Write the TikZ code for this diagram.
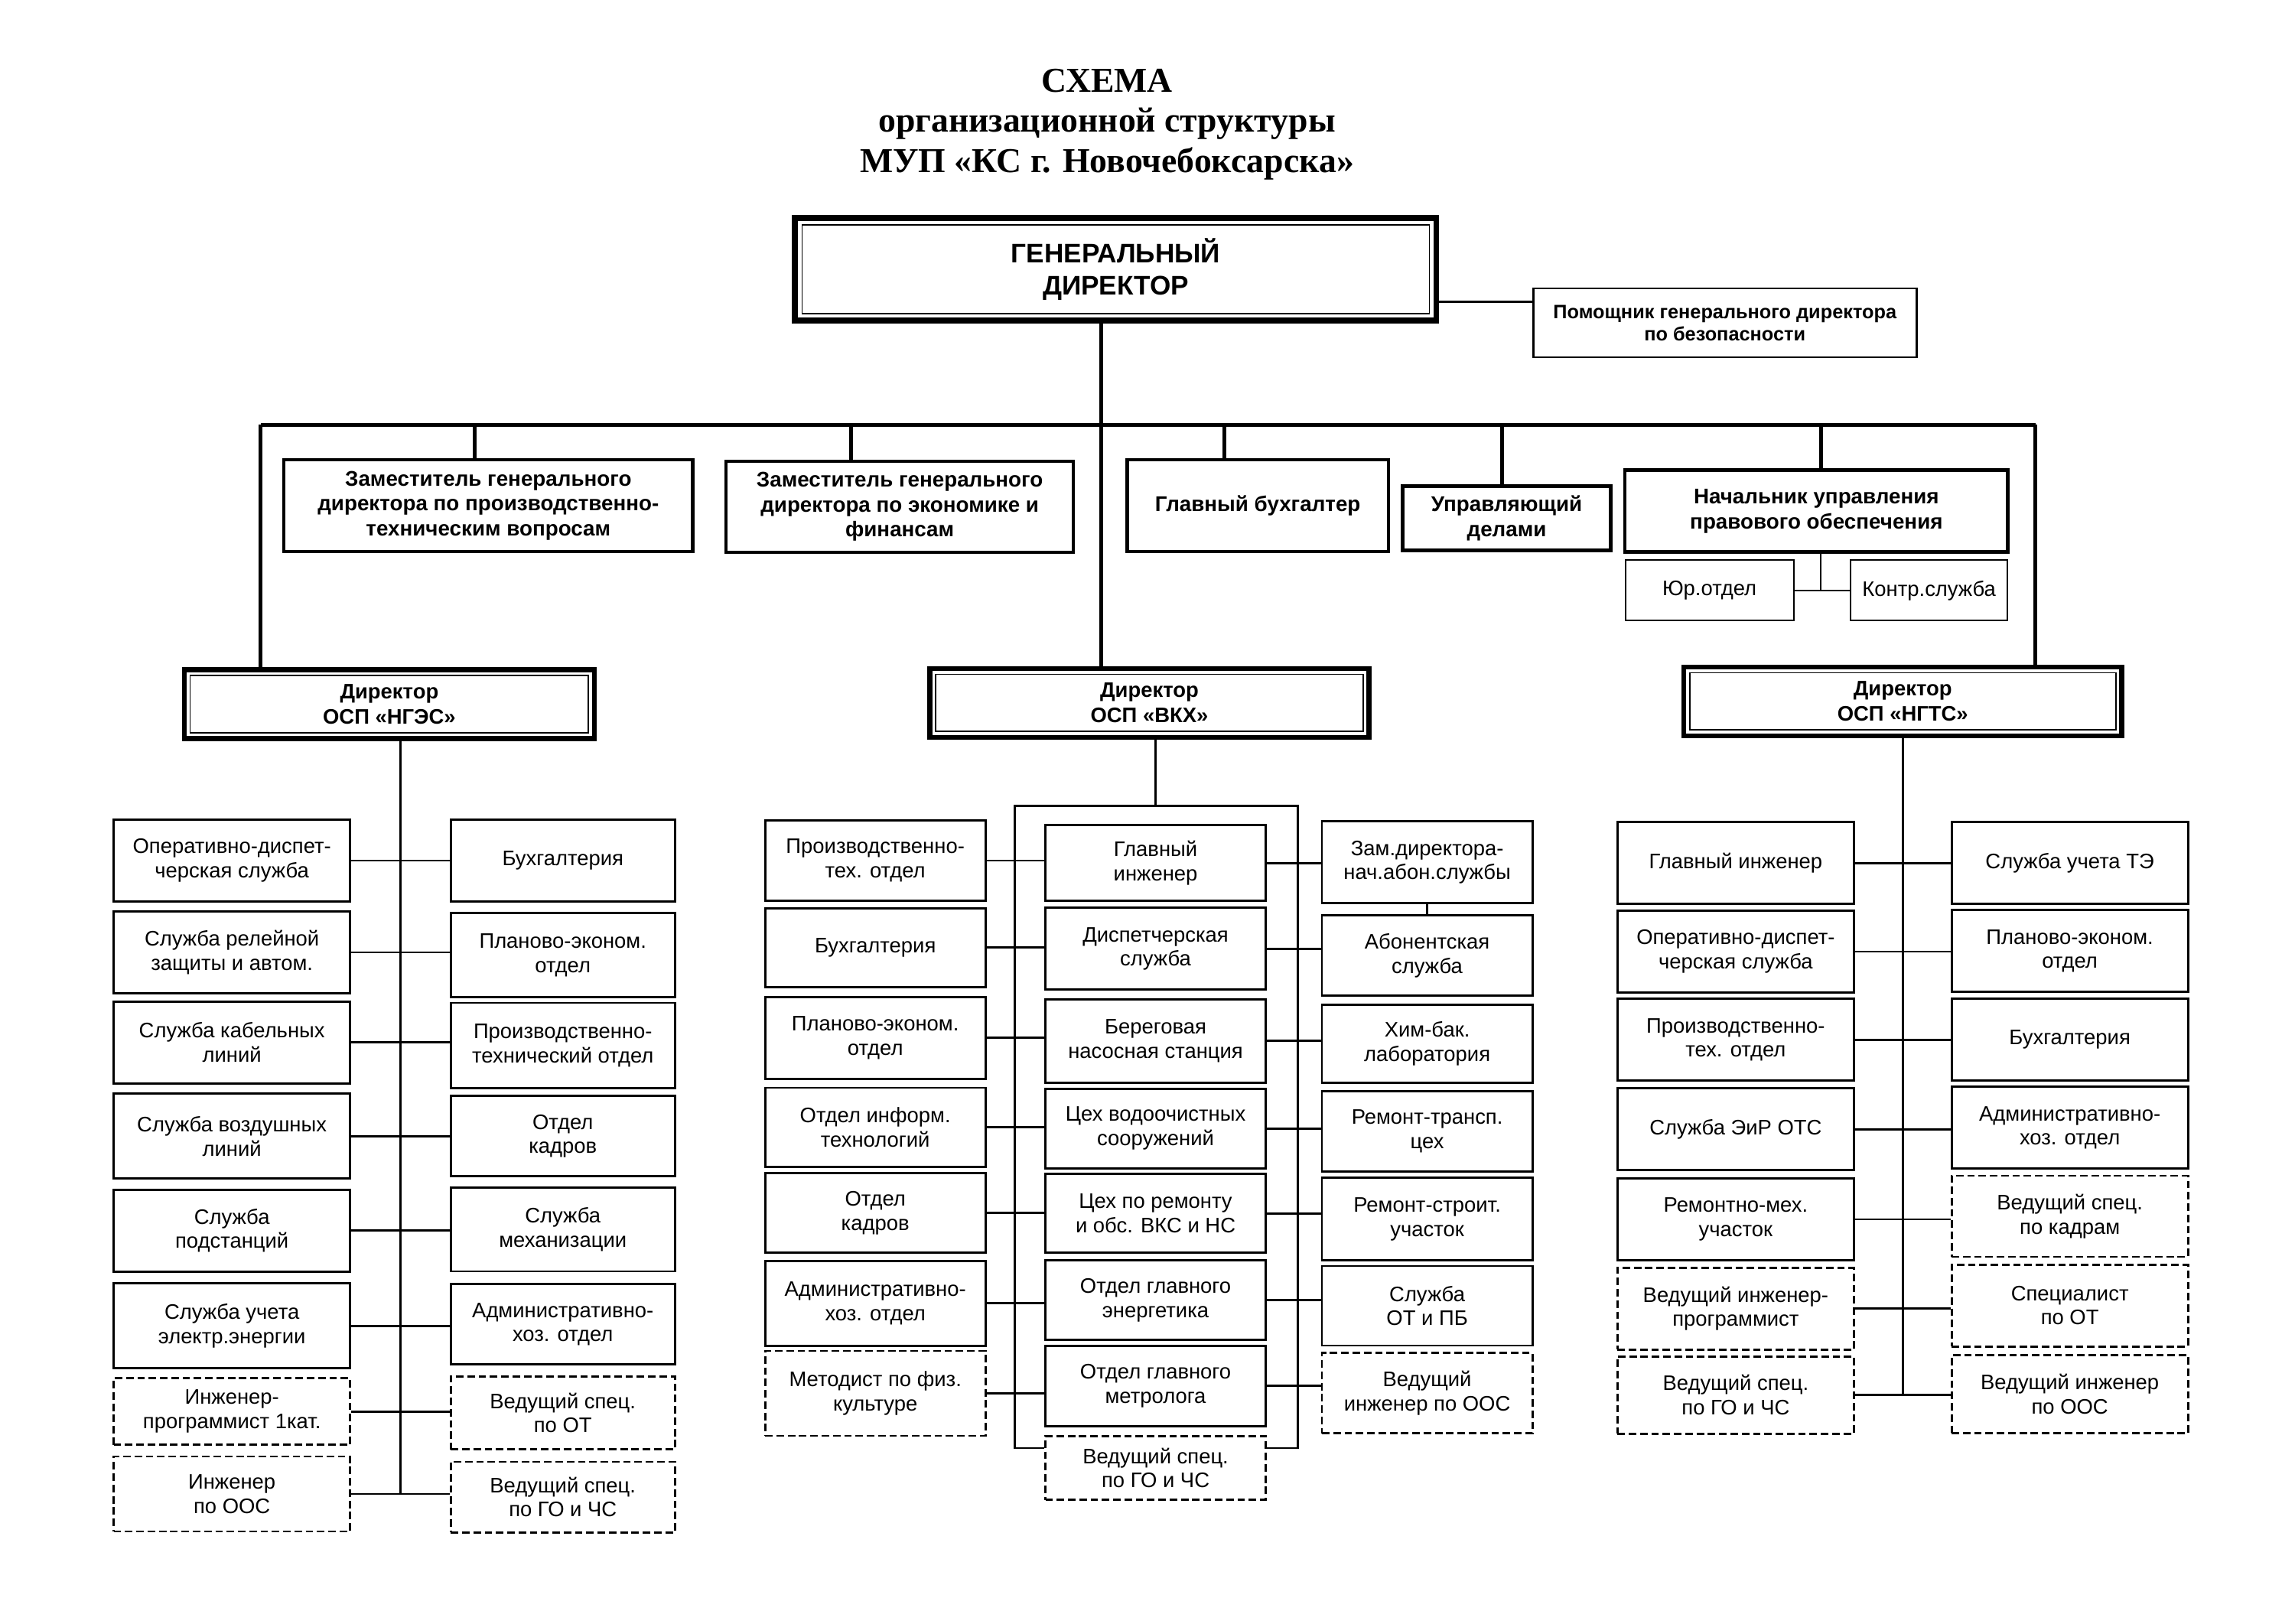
\documentclass[tikz,border=0pt]{standalone}
\usepackage{fontspec}
\setmainfont{Liberation Sans}
\newfontfamily\titlefont{Liberation Serif}
\usepackage{tikz}

\begin{document}
\begin{tikzpicture}[x=0.01914cm,y=-0.01914cm,line width=0.8pt,
  title node/.style={align=center,font=\titlefont\bfseries\fontsize{13}{15}\selectfont},
  head node/.style={draw,line width=2.2pt,align=center,inner sep=1pt,
    minimum width=8.38cm,minimum height=1.34cm,font=\bfseries\fontsize{10}{12}\selectfont,
    path picture={\draw[line width=0.5pt] ([shift={(2.6pt,-2.6pt)}]path picture bounding box.north west)
      rectangle ([shift={(-2.6pt,2.6pt)}]path picture bounding box.south east);}},
  director node/.style={draw,line width=1.8pt,align=center,inner sep=1pt,
    minimum height=0.9cm,font=\bfseries\fontsize{7.8}{9.3}\selectfont,
    path picture={\draw[line width=0.5pt] ([shift={(2.2pt,-2.2pt)}]path picture bounding box.north west)
      rectangle ([shift={(-2.2pt,2.2pt)}]path picture bounding box.south east);}},
  deputy node/.style={draw,line width=1.2pt,align=center,inner sep=1pt,
    font=\bfseries\fontsize{7.9}{9.3}\selectfont},
  aide node/.style={draw,line width=0.8pt,align=center,inner sep=1pt,
    font=\bfseries\fontsize{7.2}{8.2}\selectfont},
  sub node/.style={draw,line width=0.6pt,align=center,inner sep=1pt,
    minimum height=0.79cm,font=\fontsize{7.8}{9}\selectfont},
  unit node/.style={draw,line width=0.8pt,align=center,inner sep=1pt,
    minimum height=1.07cm,font=\fontsize{7.8}{9}\selectfont},
  dashed node/.style={unit node,dash pattern=on 2.8pt off 1.4pt},
  bus line/.style={line width=1.4pt},
  nges left/.style={minimum width=3.09cm},
  nges right/.style={minimum width=2.93cm},
  vkx left/.style={minimum width=2.88cm},
  vkx mid/.style={minimum width=2.88cm},
  vkx right/.style={minimum width=2.75cm},
  ngts side/.style={minimum width=3.09cm}]
  \useasboundingbox (0,0) rectangle (1567.4,1108.7);

  \node[title node] (title) at (756,85) {СХЕМА\\организационной структуры\\МУП «КС г. Новочебоксарска»};

  \node[head node] (gd) at (762,184) {ГЕНЕРАЛЬНЫЙ\\ДИРЕКТОР};
  \node[aide node,minimum width=5.01cm,minimum height=0.9cm] (aide) at (1178,220.5) {Помощник генерального директора\\по безопасности};

  \node[deputy node,minimum width=5.34cm,minimum height=1.2cm] (dep1) at (333.5,345.3) {Заместитель генерального\\директора по производственно-\\техническим вопросам};
  \node[deputy node,minimum width=4.54cm,minimum height=1.19cm] (dep2) at (614.5,346) {Заместитель генерального\\директора по экономике и\\финансам};
  \node[deputy node,minimum width=3.41cm,minimum height=1.2cm] (buh) at (859,345.3) {Главный бухгалтер};
  \node[deputy node,minimum width=2.72cm,minimum height=0.84cm] (upr) at (1029,354) {Управляющий\\делами};
  \node[deputy node,minimum width=5cm,minimum height=1.07cm] (pravo) at (1240.5,349) {Начальник управления\\правового обеспечения};
  \node[sub node,minimum width=2.2cm] (yur) at (1167.5,403.3) {Юр.отдел};
  \node[sub node,minimum width=2.05cm] (kontr) at (1317.5,403.3) {Контр.служба};

  \node[director node,minimum width=5.36cm] (nges) at (265.9,481) {Директор\\ОСП «НГЭС»};
  \node[director node,minimum width=5.74cm] (vkx) at (785,480) {Директор\\ОСП «ВКХ»};
  \node[director node,minimum width=5.72cm] (ngts) at (1299.5,479) {Директор\\ОСП «НГТС»};

  \node[unit node,nges left] (nl1) at (158.4,587.8) {Оперативно-диспет-\\черская служба};
  \node[unit node,nges left] (nl2) at (158.4,650.5) {Служба релейной\\защиты и автом.};
  \node[unit node,nges left] (nl3) at (158.4,712) {Служба кабельных\\линий};
  \node[unit node,nges left,minimum height=1.11cm] (nl4) at (158.4,776) {Служба воздушных\\линий};
  \node[unit node,nges left] (nl5) at (158.4,840.5) {Служба\\подстанций};
  \node[unit node,nges left,minimum height=1.11cm] (nl6) at (158.4,905.5) {Служба учета\\электр.энергии};
  \node[dashed node,nges left,minimum height=0.87cm] (nl7) at (158.4,964) {Инженер-\\программист 1кат.};
  \node[dashed node,nges left,minimum height=0.98cm] (nl8) at (158.4,1020.4) {Инженер\\по ООС};
  \node[unit node,nges right] (nr1) at (384.4,587.8) {Бухгалтерия};
  \node[unit node,nges right,minimum height=1.1cm] (nr2) at (384.4,652.3) {Планово-эконом.\\отдел};
  \node[unit node,nges right,minimum height=1.11cm] (nr3) at (384.4,714) {Производственно-\\технический отдел};
  \node[unit node,nges right,minimum height=1.05cm] (nr4) at (384.4,776) {Отдел\\кадров};
  \node[unit node,nges right,minimum height=1.09cm] (nr5) at (384.4,839.8) {Служба\\механизации};
  \node[unit node,nges right,minimum height=1.05cm] (nr6) at (384.4,904.5) {Административно-\\хоз. отдел};
  \node[dashed node,nges right,minimum height=0.95cm] (nr7) at (384.4,965) {Ведущий спец.\\по ОТ};
  \node[dashed node,nges right,minimum height=0.92cm] (nr8) at (384.4,1022.5) {Ведущий спец.\\по ГО и ЧС};

  \node[unit node,vkx left,minimum height=1.05cm] (vl1) at (597.8,587.8) {Производственно-\\тех. отдел};
  \node[unit node,vkx left,minimum height=1.03cm] (vl2) at (597.8,647.2) {Бухгалтерия};
  \node[unit node,vkx left] (vl3) at (597.8,708.9) {Планово-эконом.\\отдел};
  \node[unit node,vkx left,minimum height=1.03cm] (vl4) at (597.8,769.9) {Отдел информ.\\технологий};
  \node[unit node,vkx left,minimum height=1.04cm] (vl5) at (597.8,828.5) {Отдел\\кадров};
  \node[unit node,vkx left,minimum height=1.11cm] (vl6) at (597.8,890.1) {Административно-\\хоз. отдел};
  \node[dashed node,vkx left,minimum height=1.11cm] (vl7) at (597.8,951.7) {Методист по физ.\\культуре};
  \node[unit node,vkx mid,minimum height=0.99cm] (vc1) at (789.2,589.4) {Главный\\инженер};
  \node[unit node,vkx mid] (vc2) at (789.2,648) {Диспетчерская\\служба};
  \node[unit node,vkx mid,minimum height=1.09cm] (vc3) at (789.2,711) {Береговая\\насосная станция};
  \node[unit node,vkx mid,minimum height=1.04cm] (vc4) at (789.2,770.7) {Цех водоочистных\\сооружений};
  \node[unit node,vkx mid,minimum height=1.03cm] (vc5) at (789.2,828.8) {Цех по ремонту\\и обс. ВКС и НС};
  \node[unit node,vkx mid,minimum height=1.04cm] (vc6) at (789.2,888) {Отдел главного\\энергетика};
  \node[unit node,vkx mid,minimum height=1.05cm] (vc7) at (789.2,946.6) {Отдел главного\\метролога};
  \node[dashed node,vkx mid,minimum height=0.83cm] (vc8) at (789.2,1002.6) {Ведущий спец.\\по ГО и ЧС};
  \node[unit node,vkx right] (vr1) at (974.7,588.9) {Зам.директора-\\нач.абон.службы};
  \node[unit node,vkx right,minimum height=1.05cm] (vr2) at (974.7,652.7) {Абонентская\\служба};
  \node[unit node,vkx right,minimum height=1.02cm] (vr3) at (974.7,712.9) {Хим-бак.\\лаборатория};
  \node[unit node,vkx right,minimum height=1.05cm] (vr4) at (974.7,772.7) {Ремонт-трансп.\\цех};
  \node[unit node,vkx right,minimum height=1.08cm] (vr5) at (974.7,832.7) {Ремонт-строит.\\участок};
  \node[unit node,vkx right,minimum height=1.04cm] (vr6) at (974.7,891.8) {Служба\\ОТ и ПБ};
  \node[dashed node,vkx right,minimum height=1.05cm] (vr7) at (974.7,951.6) {Ведущий\\инженер по ООС};

  \node[unit node,ngts side] (tl1) at (1185.4,589.4) {Главный инженер};
  \node[unit node,ngts side] (tl2) at (1185.4,649.9) {Оперативно-диспет-\\черская служба};
  \node[unit node,ngts side] (tl3) at (1185.4,710.2) {Производственно-\\тех. отдел};
  \node[unit node,ngts side] (tl4) at (1185.4,771.3) {Служба ЭиР ОТС};
  \node[unit node,ngts side] (tl5) at (1185.4,832.8) {Ремонтно-мех.\\участок};
  \node[dashed node,ngts side] (tl6) at (1185.4,893.8) {Ведущий инженер-\\программист};
  \node[dashed node,ngts side,minimum height=1.01cm] (tl7) at (1185.4,952.8) {Ведущий спец.\\по ГО и ЧС};
  \node[unit node,ngts side] (tr1) at (1413.6,589.4) {Служба учета ТЭ};
  \node[unit node,ngts side] (tr2) at (1413.6,649.5) {Планово-эконом.\\отдел};
  \node[unit node,ngts side] (tr3) at (1413.6,710) {Бухгалтерия};
  \node[unit node,ngts side] (tr4) at (1413.6,770.2) {Административно-\\хоз. отдел};
  \node[dashed node,ngts side,minimum height=1.06cm] (tr5) at (1413.6,830.7) {Ведущий спец.\\по кадрам};
  \node[dashed node,ngts side] (tr6) at (1413.6,891.7) {Специалист\\по ОТ};
  \node[dashed node,ngts side,minimum height=1.02cm] (tr7) at (1413.6,952.3) {Ведущий инженер\\по ООС};

  \coordinate (busl) at (178,290);
  \coordinate (busr) at (1390,290);
  \coordinate (busc) at (752,290);
  \coordinate (d1) at (324,290);
  \coordinate (d2) at (581,290);
  \coordinate (d3) at (836,290);
  \coordinate (d4) at (1026,290);
  \coordinate (d5) at (1243.5,290);
  \coordinate (aidein) at ([yshift=-0.19cm]aide.north west);
  \coordinate (nspine) at (273.4,505);
  \coordinate (tspine) at (1299.5,502);
  \coordinate (brl) at (693.2,989);
  \coordinate (brr) at (886.4,989);
  \coordinate (brt) at (789,550.3);

  \draw[line width=0.9pt] (aidein) -- (aidein -| gd.east);
  \draw[bus line] (busl) -- (busr);
  \draw[bus line] (busc |- gd.south) -- (busc |- vkx.north);
  \draw[bus line] (busl) -- (busl |- nges.north);
  \draw[bus line] (busr) -- (busr |- ngts.north);
  \draw[bus line] (d1) -- (d1 |- dep1.north);
  \draw[bus line] (d2) -- (d2 |- dep2.north);
  \draw[bus line] (d3) -- (d3 |- buh.north);
  \draw[bus line] (d4) -- (d4 |- upr.north);
  \draw[bus line] (d5) -- (d5 |- pravo.north);
  \draw[line width=0.6pt] (d5 |- pravo.south) -- (d5 |- yur.east);
  \draw[line width=0.6pt] (yur.east) -- (kontr.west);

  \draw (nspine |- nges.south) -- (nspine |- nl8.east);
  \path
    (nl1.east) edge (nl1.east -| nr1.west)
    (nl2.east) edge (nl2.east -| nr2.west)
    (nl3.east) edge (nl3.east -| nr3.west)
    (nl4.east) edge (nl4.east -| nr4.west)
    (nl5.east) edge (nl5.east -| nr5.west)
    (nl6.east) edge (nl6.east -| nr6.west)
    (nl7.east) edge (nl7.east -| nr7.west)
    (nl8.east) edge (nl8.east -| nr8.west);

  \draw (brt |- vkx.south) -- (brt);
  \draw (vc8.west |- brl) -- (brl) |- (brt) -| (brr) -- (vc8.east |- brr);
  \path
    (vl1.east) edge (vl1.east -| vc1.west)
    (vl2.east) edge (vl2.east -| vc2.west)
    (vl3.east) edge (vl3.east -| vc3.west)
    (vl4.east) edge (vl4.east -| vc4.west)
    (vl5.east) edge (vl5.east -| vc5.west)
    (vl6.east) edge (vl6.east -| vc6.west)
    (vl7.east) edge (vl7.east -| vc7.west)
    (vc1.east) edge (vc1.east -| vr1.west)
    (vc2.east) edge (vc2.east -| vr2.west)
    (vc3.east) edge (vc3.east -| vr3.west)
    (vc4.east) edge (vc4.east -| vr4.west)
    (vc5.east) edge (vc5.east -| vr5.west)
    (vc6.east) edge (vc6.east -| vr6.west)
    (vc7.east) edge (vc7.east -| vr7.west)
    (vr1.south) edge (vr2.north);

  \draw (tspine |- ngts.south) -- (tspine |- tl7.east);
  \path
    (tl1.east) edge (tl1.east -| tr1.west)
    (tl2.east) edge (tl2.east -| tr2.west)
    (tl3.east) edge (tl3.east -| tr3.west)
    (tl4.east) edge (tl4.east -| tr4.west)
    (tl5.east) edge (tl5.east -| tr5.west)
    (tl6.east) edge (tl6.east -| tr6.west)
    (tl7.east) edge (tl7.east -| tr7.west);
\end{tikzpicture}
\end{document}
